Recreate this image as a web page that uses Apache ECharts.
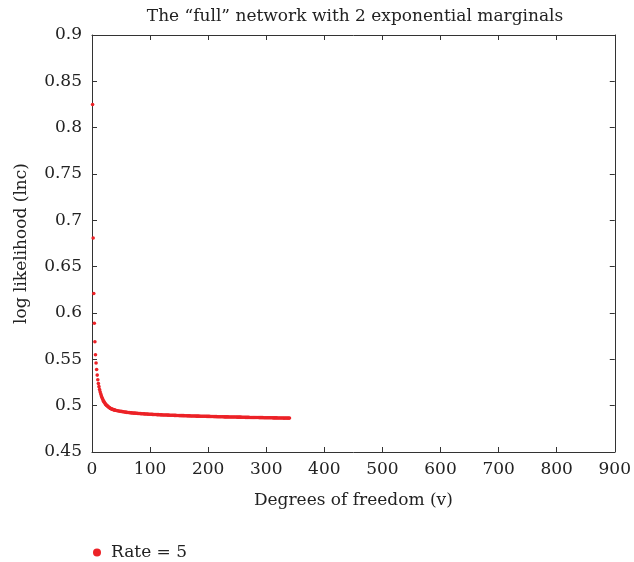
<!DOCTYPE html>
<html><head><meta charset="utf-8">
<script src="https://cdn.jsdelivr.net/npm/echarts@6/dist/echarts.min.js"></script>
<style>html,body{margin:0;padding:0;background:#fff;overflow:hidden}#c{width:634px;height:562px}</style>
</head><body><div id="c"></div>
<script>
const titleText = 'The \u201cfull\u201d network with 2 exponential marginals';
const xAxisName = 'Degrees of freedom (v)';
const yAxisName = 'log likelihood (lnc)';
const seriesName = 'Rate = 5';

const degrees = [
 1,2,3,4,5,6,7,8,9,10,11,12,13,14,15,16,17,18,19,20,
 21,22,23,24,25,26,27,28,29,30,31,32,33,34,35,36,37,38,39,40,
 42,44,46,48,50,52,54,56,58,60,62,64,66,68,70,72,74,76,78,80,
 82,84,86,88,90,92,94,96,98,100,102,104,106,108,110,112,114,116,118,120,
 122,124,126,128,130,132,134,136,138,140,142,144,146,148,150,152,154,156,158,160,
 162,164,166,168,170,172,174,176,178,180,182,184,186,188,190,192,194,196,198,200,
 202,204,206,208,210,212,214,216,218,220,222,224,226,228,230,232,234,236,238,240,
 242,244,246,248,250,252,254,256,258,260,262,264,266,268,270,272,274,276,278,280,
 282,284,286,288,290,292,294,296,298,300,302,304,306,308,310,312,314,316,318,320,
 322,324,326,328,330,332,334,336,338,340
];
const logLik = [
 0.825,0.681,0.621,0.589,0.569,0.555,0.546,0.539,0.533,0.528,
 0.524,0.5205,0.5175,0.515,0.5128,0.5108,0.509,0.5075,0.5061,0.5049,
 0.5038,0.5028,0.5019,0.5011,0.5005,0.5000,0.4994,0.4989,0.4983,0.4978,
 0.4974,0.4970,0.4967,0.4964,0.4961,0.4959,0.4957,0.4955,0.4953,0.4951,
 0.4948,0.4945,0.4943,0.4940,0.4938,0.4936,0.4934,0.4932,0.4930,0.4928,
 0.4927,0.4925,0.4924,0.4922,0.4921,0.4920,0.4919,0.4918,0.4917,0.4916,
 0.4915,0.4914,0.4913,0.4912,0.4911,0.4910,0.4910,0.4909,0.4908,0.4907,
 0.4907,0.4906,0.4905,0.4905,0.4904,0.4903,0.4903,0.4902,0.4901,0.4901,
 0.4900,0.4900,0.4899,0.4899,0.4898,0.4898,0.4897,0.4897,0.4896,0.4896,
 0.4895,0.4895,0.4894,0.4894,0.4893,0.4893,0.4893,0.4892,0.4892,0.4891,
 0.4891,0.4890,0.4890,0.4890,0.4889,0.4889,0.4888,0.4888,0.4888,0.4887,
 0.4887,0.4887,0.4886,0.4886,0.4886,0.4885,0.4885,0.4885,0.4884,0.4884,
 0.4884,0.4883,0.4883,0.4883,0.4882,0.4882,0.4882,0.4881,0.4881,0.4881,
 0.4880,0.4880,0.4880,0.4879,0.4879,0.4879,0.4879,0.4878,0.4878,0.4878,
 0.4877,0.4877,0.4877,0.4877,0.4876,0.4876,0.4876,0.4876,0.4875,0.4875,
 0.4875,0.4874,0.4874,0.4874,0.4874,0.4873,0.4873,0.4873,0.4873,0.4872,
 0.4872,0.4872,0.4872,0.4871,0.4871,0.4871,0.4871,0.4870,0.4870,0.4870,
 0.4870,0.4869,0.4869,0.4869,0.4869,0.4868,0.4868,0.4868,0.4868,0.4867,
 0.4867,0.4867,0.4867,0.4867,0.4866,0.4866,0.4866,0.4866,0.4866,0.4866
];

const xMin = 0, xMax = 900, xStep = 100;
const yMin = 0.45, yMax = 0.9, yStep = 0.05;

const FONT = 'DejaVu Serif';
const TXT = '#222';
const AX = '#333';

const points = degrees.map((d, i) => [d, logLik[i]]);

const chart = echarts.init(document.getElementById('c'), null, {renderer: 'canvas', width: 634, height: 562});
const axisCommon = {
  axisLine: {show: true, onZero: false, lineStyle: {color: AX, width: 1}},
  axisTick: {show: true, inside: true, length: 5, lineStyle: {color: AX, width: 1}},
  splitLine: {show: false}
};
chart.setOption({
  animation: false,
  backgroundColor: '#fff',
  title: {
    text: titleText, left: 350, top: 3, textAlign: 'center',
    textStyle: {fontFamily: FONT, fontSize: 17, fontWeight: 'normal', color: TXT}
  },
  legend: {
    left: 88, top: 539, itemWidth: 8, itemHeight: 8, itemGap: 6,
    data: [{name: seriesName, icon: 'circle'}],
    textStyle: {fontFamily: FONT, fontSize: 17, color: TXT, padding: [0, 0, 0, 5]}
  },
  grid: {left: 92, width: 529, top: 35, height: 417, containLabel: false},
  xAxis: [
    Object.assign({
      type: 'value', min: xMin, max: xMax, interval: xStep,
      name: xAxisName, nameLocation: 'middle', nameGap: 40,
      nameTextStyle: {fontFamily: FONT, fontSize: 17, color: TXT},
      axisLabel: {fontFamily: FONT, fontSize: 17, color: TXT, margin: 9}
    }, axisCommon),
    Object.assign({
      type: 'value', position: 'top', min: xMin, max: xMax, interval: xStep,
      axisLabel: {show: false}
    }, axisCommon)
  ],
  yAxis: [
    Object.assign({
      type: 'value', min: yMin, max: yMax, interval: yStep,
      name: yAxisName, nameLocation: 'middle', nameGap: 62, nameRotate: 90,
      nameTextStyle: {fontFamily: FONT, fontSize: 17, color: TXT},
      axisLabel: {fontFamily: FONT, fontSize: 17, color: TXT, margin: 10}
    }, axisCommon),
    Object.assign({
      type: 'value', position: 'right', min: yMin, max: yMax, interval: yStep,
      axisLabel: {show: false}
    }, axisCommon)
  ],
  series: [{
    name: seriesName, type: 'scatter', data: points,
    symbol: 'circle', symbolSize: 3.6,
    itemStyle: {color: '#ec2227', opacity: 1},
    emphasis: {disabled: true}
  }]
});
</script></body></html>
